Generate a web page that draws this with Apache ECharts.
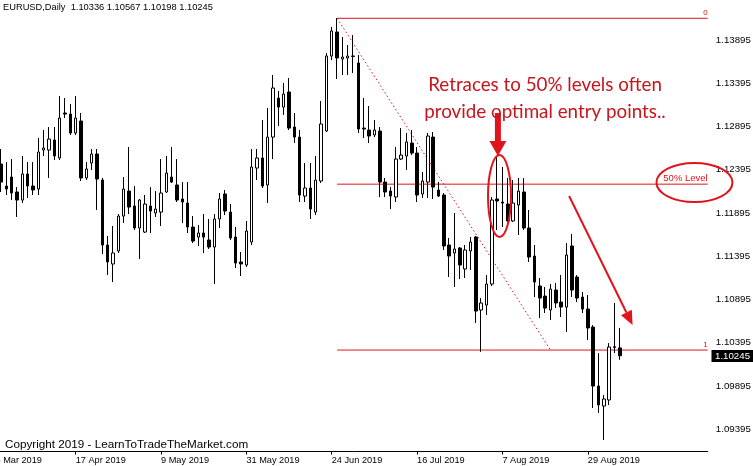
<!DOCTYPE html>
<html><head><meta charset="utf-8">
<script src="https://cdn.jsdelivr.net/npm/echarts@6/dist/echarts.min.js"></script>
<style>html,body{margin:0;padding:0;background:#fff}#c{width:753px;height:466px}</style>
</head><body><div id="c"></div>
<script>
// ---- trading days (weekdays), 2 leading off-screen bars + 117 bars + 16 empty future bars
const tradingDays = {
  '2019-03': [26,27,28,29],
  '2019-04': [1,2,3,4,5,8,9,10,11,12,15,16,17,18,19,22,23,24,25,26,29,30],
  '2019-05': [1,2,3,6,7,8,9,10,13,14,15,16,17,20,21,22,23,24,27,28,29,30,31],
  '2019-06': [3,4,5,6,7,10,11,12,13,14,17,18,19,20,21,24,25,26,27,28],
  '2019-07': [1,2,3,4,5,8,9,10,11,12,15,16,17,18,19,22,23,24,25,26,29,30,31],
  '2019-08': [1,2,5,6,7,8,9,12,13,14,15,16,19,20,21,22,23,26,27,28,29,30],
  '2019-09': [2,3,4,5,6,9,10,11,12,13,16,17,18,19,20,23,24,25,26,27,30]
};
const firstBarDate = '2019-03-28';

// ---- OHLC (EURUSD Daily) from 2019-03-28 to 2019-09-06
const opens = [1.12461,1.12207,1.12311,1.12138,1.12045,1.12346,1.12207,1.12172,1.12623,1.12623,
1.12739,1.12531,1.13051,1.13039,1.12820,1.12958,1.12300,1.12473,1.12577,1.12276,
1.11525,1.11306,1.11456,1.11860,1.12149,1.11976,1.11722,1.11675,1.11976,1.11895,
1.11906,1.12138,1.12311,1.12219,1.12057,1.12010,1.11733,1.11617,1.11664,1.11583,
1.11502,1.11826,1.12115,1.11906,1.11617,1.11329,1.11294,1.11560,1.12415,1.12531,
1.12219,1.12773,1.13224,1.13120,1.13294,1.12889,1.12773,1.12091,1.12184,1.11906,
1.12265,1.12843,1.13710,1.13987,1.13675,1.13687,1.13710,1.13629,1.12877,1.12854,
1.12797,1.12843,1.12253,1.12149,1.12080,1.12519,1.12554,1.12704,1.12588,1.12115,
1.12253,1.12773,1.12161,1.12103,1.11525,1.11433,1.11490,1.11248,1.11456,1.11618,
1.10774,1.10831,1.11074,1.12057,1.12022,1.11999,1.11803,1.11987,1.12138,1.11722,
1.11398,1.11051,1.10935,1.10774,1.11005,1.10866,1.10808,1.11514,1.11155,1.10924,
1.10785,1.10577,1.09895,1.09664,1.09734,1.10340,1.10336];
const highs = [1.12635,1.12484,1.12519,1.12195,1.12554,1.12484,1.12484,1.12762,1.12854,1.12889,
1.12889,1.13247,1.13224,1.13155,1.13247,1.13051,1.12484,1.12635,1.12635,1.12300,
1.11629,1.11745,1.11883,1.12311,1.12658,1.12207,1.12057,1.12103,1.12195,1.12149,
1.12519,1.12554,1.12658,1.12519,1.12253,1.12253,1.11860,1.11756,1.11883,1.11826,
1.11883,1.12126,1.12161,1.11999,1.11733,1.11444,1.11803,1.12635,1.12635,1.12970,
1.13109,1.13490,1.13305,1.13398,1.13455,1.13051,1.12854,1.12473,1.12473,1.12554,
1.13190,1.13744,1.14045,1.14149,1.13929,1.13837,1.13952,1.13721,1.13224,1.13132,
1.12970,1.12889,1.12300,1.12195,1.12658,1.12877,1.12820,1.12854,1.12658,1.12369,
1.12820,1.12831,1.12253,1.12126,1.11606,1.11895,1.11502,1.11525,1.11618,1.11629,
1.10912,1.11178,1.12080,1.12542,1.12427,1.12300,1.12276,1.12300,1.12300,1.11930,
1.11525,1.11144,1.11040,1.11074,1.11086,1.11178,1.11548,1.11652,1.11178,1.10982,
1.10947,1.10600,1.10276,1.09791,1.10392,1.10855,1.10567];
const lows = [1.12138,1.12103,1.12045,1.11849,1.12010,1.12068,1.12103,1.12103,1.12554,1.12300,
1.12508,1.12508,1.12993,1.12797,1.12797,1.12265,1.12276,1.12392,1.11930,1.11421,
1.11178,1.11097,1.11433,1.11779,1.11883,1.11698,1.11363,1.11664,1.11664,1.11849,
1.11745,1.12126,1.12242,1.12022,1.11779,1.11664,1.11548,1.11514,1.11433,1.11479,
1.11074,1.11722,1.11872,1.11583,1.11259,1.11167,1.11271,1.11525,1.12276,1.12184,
1.12010,1.12519,1.12901,1.13028,1.12854,1.12704,1.12022,1.12022,1.11826,1.11872,
1.12242,1.12831,1.13663,1.13444,1.13490,1.13490,1.13513,1.12820,1.12762,1.12704,
1.12773,1.12080,1.12080,1.11941,1.12022,1.12508,1.12392,1.12565,1.12022,1.12068,
1.12068,1.12057,1.12080,1.11467,1.11155,1.11040,1.11132,1.11144,1.11236,1.10623,
1.10290,1.10716,1.11051,1.11698,1.11733,1.11791,1.11791,1.11641,1.11698,1.11329,
1.10924,1.10681,1.10739,1.10658,1.10797,1.10693,1.10519,1.10924,1.10866,1.10739,
1.10427,1.09641,1.09583,1.09271,1.09676,1.10277,1.10198];
const closes = [1.12253,1.12172,1.12126,1.12045,1.12346,1.12207,1.12161,1.12600,1.12646,1.12750,
1.12554,1.12993,1.13039,1.12820,1.12993,1.12300,1.12404,1.12577,1.12288,1.11525,
1.11329,1.11433,1.11860,1.12172,1.11964,1.11722,1.12045,1.11999,1.11918,1.11941,
1.12126,1.12357,1.12253,1.12045,1.12022,1.11733,1.11571,1.11664,1.11617,1.11502,
1.11826,1.12057,1.11918,1.11606,1.11317,1.11306,1.11687,1.12427,1.12531,1.12207,
1.12773,1.13340,1.13120,1.13270,1.12877,1.12773,1.12103,1.12184,1.11941,1.12276,
1.12924,1.13710,1.13999,1.13687,1.13698,1.13710,1.13705,1.12866,1.12866,1.12785,
1.12854,1.12253,1.12138,1.12091,1.12519,1.12565,1.12716,1.12588,1.12103,1.12265,
1.12785,1.12195,1.12091,1.11514,1.11398,1.11479,1.11294,1.11467,1.11560,1.10762,
1.10855,1.11074,1.12045,1.12034,1.12010,1.11803,1.12010,1.12149,1.11722,1.11386,
1.11097,1.10912,1.10796,1.11016,1.10855,1.10808,1.11410,1.11005,1.10912,1.10785,
1.10566,1.09895,1.09676,1.09745,1.10346,1.10350,1.10245];

// ---- axis ticks
const yTicks = [1.09395,1.09895,1.10395,1.10895,1.11395,1.11895,1.12395,1.12895,1.13395,1.13895];
const xTickDates  = ['2019-03-26','2019-04-17','2019-05-09','2019-05-31','2019-06-24','2019-07-16','2019-08-07','2019-08-29'];
const xTickLabels = ['26 Mar 2019','17 Apr 2019','9 May 2019','31 May 2019','24 Jun 2019','16 Jul 2019','7 Aug 2019','29 Aug 2019'];
const yMin = 1.091383, yMax = 1.143574;

// ---- Fibonacci retracement anchors & levels
const fibFrom = {date:'2019-06-25', price:1.14146};
const fibTo   = {date:'2019-08-20', price:1.10311};
const fibLevels = [{ratio:0, label:'0'}, {ratio:0.5, label:'50% Level'}, {ratio:1, label:'1'}];

// ---- annotation anchors (category index offsets from a date, price)
const noteEllipseCandles = {date:'2019-08-06', dx:0.45, price:1.12091};
const noteEllipseLevel   = {date:'2019-09-06', dx:14.0, price:1.12248};
const noteBigArrow = {date:'2019-08-06', dx:0.15, from:1.13051, to:1.12554};
const noteThinArrow = {from:{date:'2019-08-23', dx:0.5, price:1.12091}, to:{date:'2019-09-06', dx:2.4, price:1.10600}};
const noteText = ['Retraces to 50% levels often', 'provide optimal entry points..'];
const headerText = 'EURUSD,Daily  1.10336 1.10567 1.10198 1.10245';
const copyrightText = 'Copyright 2019 - LearnToTradeTheMarket.com';

// ---- build
const dates = [];
Object.keys(tradingDays).forEach(m => tradingDays[m].forEach(d => dates.push(m + '-' + String(d).padStart(2,'0'))));
const N = dates.length;
const lead = dates.indexOf(firstBarDate);
const idx = d => dates.indexOf(d);
const candleData = dates.map((d,i) => {
  const k = i - lead;
  if (k < 0 || k >= opens.length) return '-';
  return [opens[k], closes[k], lows[k], highs[k]];
});
const lastClose = closes[closes.length-1];
const xLabelMap = {}; xTickDates.forEach((d,i) => xLabelMap[d] = xTickLabels[i]);

const RED = '#e0141a', TRED = '#c8141c';
const FONT = '"Liberation Sans", Arial, sans-serif';
const xEnd = N - 0.5 - 0.02;
const f0 = fibFrom.price, f1 = fibTo.price;
const fibSeries = fibLevels.map(l => {
  const v = f0 + (f1 - f0) * l.ratio;
  return {
    type:'line', xAxisIndex:1, yAxisIndex:0, silent:true, animation:false,
    symbol:'circle', symbolSize:0, showSymbol:true, z:3,
    lineStyle:{color:RED, width:1},
    data:[[idx(fibFrom.date), v], {value:[xEnd, v], label:{show:true, formatter:l.label, position:'top', align:'right', distance:1,
      color:RED, fontSize: l.ratio===0.5 ? 9.5 : 8, fontFamily:FONT}}]
  };
});

const chart = echarts.init(document.getElementById('c'));
chart.setOption({
  animation:false,
  backgroundColor:'#fff',
  grid:{left:-12.3, right:45.2, top:0, bottom:14.5, containLabel:false, outerBoundsMode:'none'},
  xAxis:[{
    type:'category', data:dates, boundaryGap:true,
    axisLine:{show:true, lineStyle:{color:'#000', width:1}},
    axisTick:{show:true, alignWithLabel:true, length:3, interval:(i,v)=>xLabelMap[v]!==undefined, lineStyle:{color:'#000'}},
    axisLabel:{show:true, interval:(i,v)=>xLabelMap[v]!==undefined, formatter:v=>xLabelMap[v]||'', align:'left',
      color:'#000', fontSize:9.2, fontFamily:FONT, margin:4},
    splitLine:{show:false}
  },{
    type:'value', min:-0.5, max:N-0.5, show:false
  }],
  yAxis:[{
    type:'value', position:'right', offset:3, min:yMin, max:yMax, scale:true,
    axisLine:{show:true, lineStyle:{color:'#000', width:1}},
    axisTick:{show:true, length:3, inside:false, customValues:yTicks, lineStyle:{color:'#000'}},
    axisLabel:{show:true, customValues:yTicks, formatter:v=>v.toFixed(5), color:'#000', fontSize:9.7, fontFamily:FONT, margin:5},
    splitLine:{show:false}
  }],
  series:[
    {
      type:'candlestick', xAxisIndex:0, yAxisIndex:0, data:candleData, barWidth:3, z:5,
      itemStyle:{color:'#fff', color0:'#000', borderColor:'#000', borderColor0:'#000', borderWidth:1}
    },
    ...fibSeries,
    {
      type:'line', xAxisIndex:1, yAxisIndex:0, silent:true, animation:false, showSymbol:false, z:3,
      lineStyle:{color:RED, width:1, type:[1.5,2.5]},
      data:[[idx(fibFrom.date), f0],[idx(fibTo.date), f1]]
    }
  ]
});

// annotations positioned through the chart's own scales
const P = (a, price) => chart.convertToPixel({seriesIndex:1}, [idx(a.date) + (a.dx||0), price]);
const ec = P(noteEllipseCandles, noteEllipseCandles.price);
const el = P(noteEllipseLevel, noteEllipseLevel.price);
const ba0 = P(noteBigArrow, noteBigArrow.from), ba1 = P(noteBigArrow, noteBigArrow.to);
const ta0 = P(noteThinArrow.from, noteThinArrow.from.price), ta1 = P(noteThinArrow.to, noteThinArrow.to.price);
const yTag = chart.convertToPixel({yAxisIndex:0}, lastClose);
const bx = ba0[0], hw = 3, hh = 8.5, hl = 15;
const dx = ta1[0]-ta0[0], dy = ta1[1]-ta0[1], len = Math.hypot(dx,dy), ux = dx/len, uy = dy/len;
const tl = 14, tw = 6;
const tb = [ta1[0]-ux*tl, ta1[1]-uy*tl];
chart.setOption({graphic:[
  {type:'ellipse', shape:{cx:ec[0], cy:ec[1], rx:11.5, ry:41}, style:{fill:'none', stroke:RED, lineWidth:2}, z:10},
  {type:'ellipse', shape:{cx:el[0], cy:el[1], rx:38, ry:19.5}, style:{fill:'none', stroke:RED, lineWidth:2}, z:10},
  {type:'polygon', shape:{points:[[bx-hw,ba0[1]],[bx+hw,ba0[1]],[bx+hw,ba1[1]-hl],[bx+hh,ba1[1]-hl],[bx,ba1[1]],[bx-hh,ba1[1]-hl],[bx-hw,ba1[1]-hl]]},
    style:{fill:RED}, z:10},
  {type:'line', shape:{x1:ta0[0], y1:ta0[1], x2:tb[0], y2:tb[1]}, style:{stroke:RED, lineWidth:2}, z:10},
  {type:'polygon', shape:{points:[[ta1[0],ta1[1]],[tb[0]-uy*tw, tb[1]+ux*tw],[tb[0]+uy*tw, tb[1]-ux*tw]]}, style:{fill:RED}, z:10},
  {type:'rect', shape:{x:711.5, y:Math.round(yTag)-6, width:42, height:12}, style:{fill:'#000'}, z:20},
  {type:'text', x:715, y:Math.round(yTag), style:{text:lastClose.toFixed(5), font:'9.7px "Liberation Sans"', fill:'#fff', verticalAlign:'middle'}, z:21},
  {type:'text', x:545, y:71, style:{text:noteText.join('\n'), font:'18.8px Lato', fill:TRED, align:'center', verticalAlign:'top', lineHeight:27.5}, z:10},
  {type:'text', x:3, y:3, style:{text:headerText, font:'9.3px "Liberation Sans"', fill:'#000'}, z:10},
  {type:'text', x:5, y:439, style:{text:copyrightText, font:'11.7px "Liberation Sans"', fill:'#000'}, z:10}
]});
</script></body></html>
